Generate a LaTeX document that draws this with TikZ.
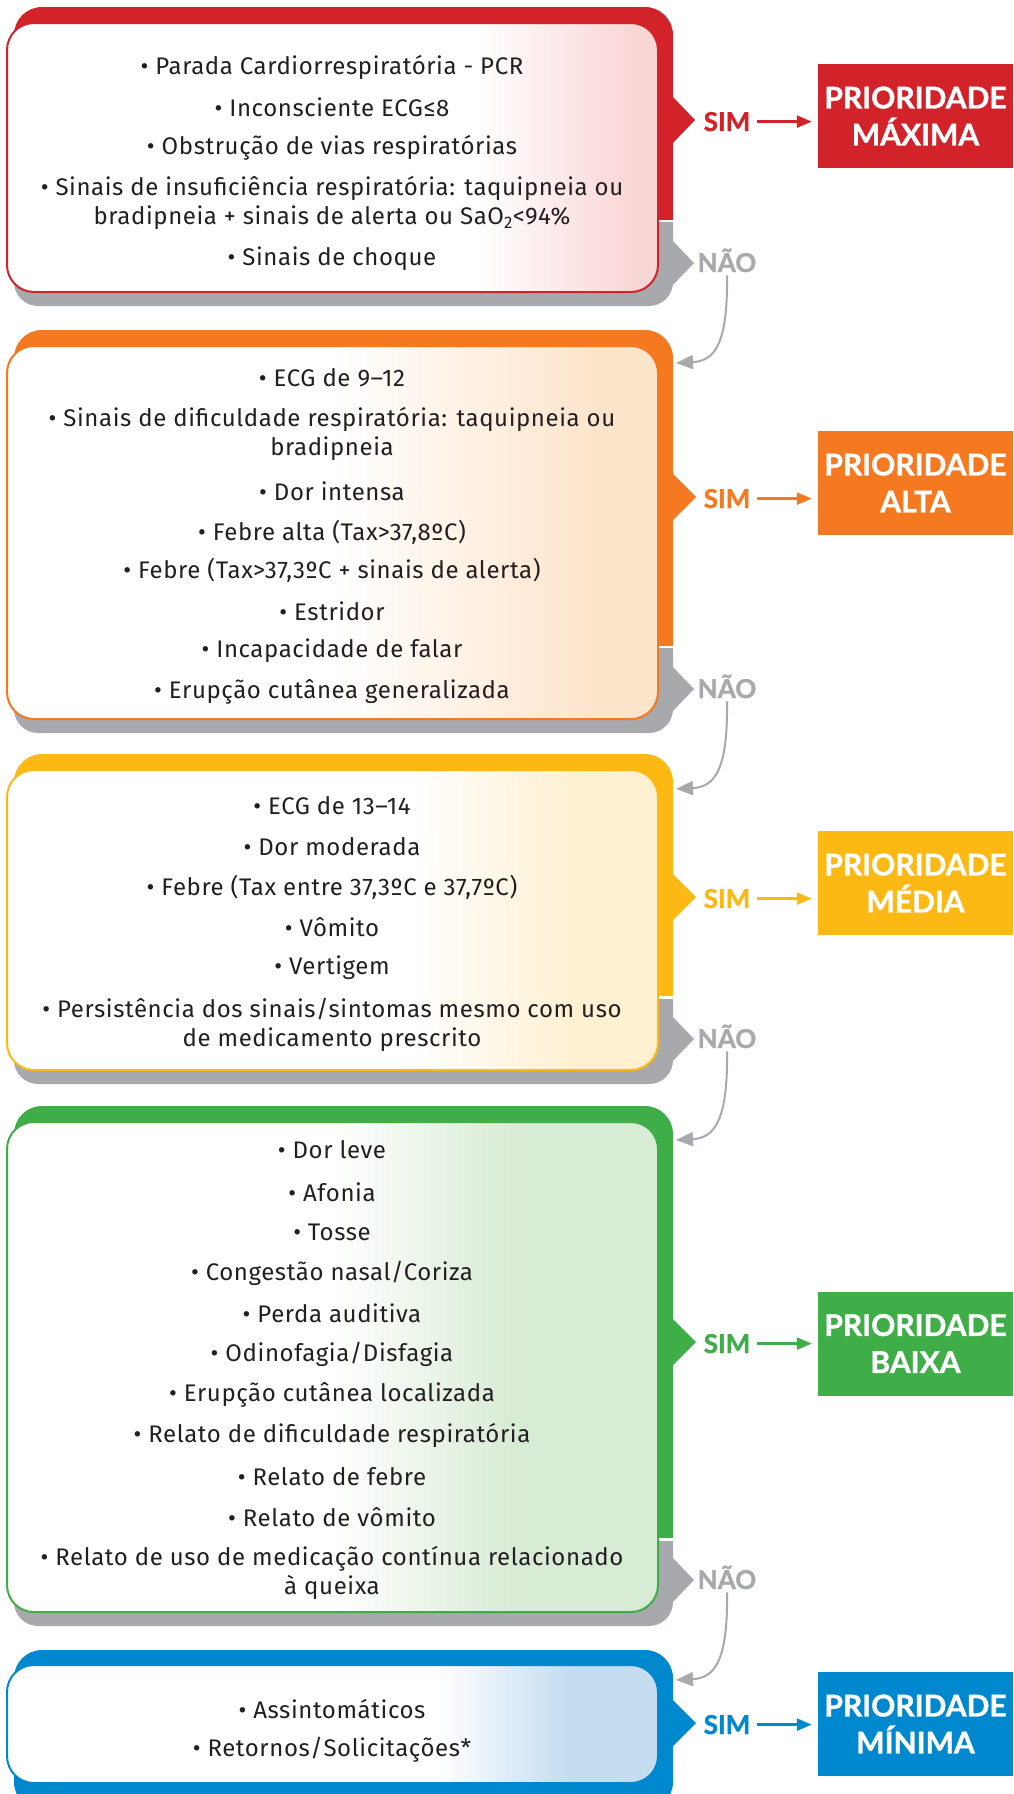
\documentclass[tikz,border=0pt]{standalone}
\usepackage{fontspec}
\setmainfont{Fira Sans}[LetterSpace=2.5]
\newfontfamily\lblfont{Lato}[BoldFeatures={FakeBold=1.2}]
\usetikzlibrary{arrows.meta}
\definecolor{cRed}{HTML}{D2232A}
\definecolor{cOrange}{HTML}{F47920}
\definecolor{cYellow}{HTML}{FDB913}
\definecolor{cGreen}{HTML}{3FAE49}
\definecolor{cBlue}{HTML}{0088CE}
\definecolor{cGrey}{HTML}{A7A9AC}
\definecolor{cText}{HTML}{231F20}
\definecolor{cRedL}{HTML}{F9D6D6}
\definecolor{cOrangeL}{HTML}{FDE5CC}
\definecolor{cYellowL}{HTML}{FEF0D0}
\definecolor{cGreenL}{HTML}{D8EBD4}
\definecolor{cBlueL}{HTML}{C5DDF1}
\pgfdeclarehorizontalshading{gRed}{100bp}{color(0bp)=(white); color(61bp)=(white); color(73bp)=(cRedL); color(100bp)=(cRedL)}
\pgfdeclarehorizontalshading{gOrange}{100bp}{color(0bp)=(white); color(50bp)=(white); color(70bp)=(cOrangeL); color(100bp)=(cOrangeL)}
\pgfdeclarehorizontalshading{gYellow}{100bp}{color(0bp)=(white); color(56bp)=(white); color(69bp)=(cYellowL); color(100bp)=(cYellowL)}
\pgfdeclarehorizontalshading{gGreen}{100bp}{color(0bp)=(white); color(50bp)=(white); color(64bp)=(cGreenL); color(100bp)=(cGreenL)}
\pgfdeclarehorizontalshading{gBlue}{100bp}{color(0bp)=(white); color(58bp)=(white); color(68bp)=(cBlueL); color(100bp)=(cBlueL)}
\tikzset{
  itemtext/.style={font=\fontsize{24}{29}\selectfont, text=cText, align=center, inner sep=0pt},
  wbox/.style={draw=#1, line width=2pt, rounded corners=27pt, minimum width=651pt, inner sep=0pt, shade},
  simlbl/.style={font=\lblfont\bfseries\fontsize{26}{26}\selectfont, text=#1, inner sep=3pt, anchor=base},
  naolbl/.style={font=\lblfont\bfseries\fontsize{26}{26}\selectfont, text=cGrey, inner sep=3pt, anchor=base},
  prio/.style={fill=#1, text=white, font=\lblfont\bfseries\fontsize{30}{37}\selectfont, align=center, minimum width=195pt, minimum height=104pt, inner sep=0pt},
  simarrow/.style={draw=#1, line width=2.5pt, shorten <=4pt, shorten >=6pt, -{Triangle[length=15pt,width=12pt]}},
  naoarrow/.style={draw=cGrey, line width=2pt, -{Triangle[length=17pt,width=14pt]}},
}
\begin{document}
\begin{tikzpicture}[x=1pt,y=-1pt]
\clip (0,0) rectangle (1013,1794);
\fill[white] (0,0) rectangle (1013,1794);

% ---------- Block 1 (red) ----------
\begin{scope}\clip (0,0) rectangle (1013,219);
  \fill[cRed, rounded corners=28pt] (14,7) rectangle (673,290);\end{scope}
\fill[cRed] (672,96) -- (695,120) -- (672,144) -- cycle;
\begin{scope}\clip (0,222) rectangle (1013,330);
  \fill[cGrey, rounded corners=24pt] (14,150) rectangle (673,306);\end{scope}
\fill[cGrey] (672,240) -- (694,263) -- (672,286) -- cycle;
\node[wbox=cRed, shading=gRed, minimum height=269pt] (box1) at (332.5,157.5) {};
\node[itemtext] (b1a) at (332,67) {• Parada Cardiorrespiratória - PCR};
\node[itemtext] (b1b) at (332,107) {• Inconsciente ECG≤8};
\node[itemtext] (b1c) at (332,148) {• Obstrução de vias respiratórias};
\node[itemtext] (b1d) at (332,203) {• Sinais de insuficiência respiratória: taquipneia ou\\bradipneia + sinais de alerta ou SaO\textsubscript{2}<94\%};
\node[itemtext] (b1e) at (332,259) {• Sinais de choque};
\node[simlbl=cRed] (sim1) at (727,131) {SIM};
\node[prio=cRed] (prio1) at (915.5,116) {PRIORIDADE\\MÁXIMA};
\draw[simarrow=cRed] (sim1.east) -- (sim1.east -| prio1.west);
\node[naolbl] (nao1) at (727,272) {NÃO};

% ---------- Block 2 (orange) ----------
\begin{scope}\clip (0,300) rectangle (1013,645);
  \fill[cOrange, rounded corners=28pt] (14,330) rectangle (673,720);\end{scope}
\fill[cOrange] (672,473) -- (696,497) -- (672,521) -- cycle;
\begin{scope}\clip (0,648) rectangle (1013,760);
  \fill[cGrey, rounded corners=24pt] (14,560) rectangle (673,733);\end{scope}
\fill[cGrey] (672,666) -- (694,689) -- (672,712) -- cycle;
\coordinate (in2) at (676,363);
\draw[naoarrow] (nao1.south) .. controls +(1,70) and +(38,-2) .. (in2);
\node[wbox=cOrange, shading=gOrange, minimum height=373pt] (box2) at (332.5,532.5) {};
\node[itemtext] (b2a) at (332,378) {• ECG de 9–12};
\node[itemtext] (b2b) at (332,434) {• Sinais de dificuldade respiratória: taquipneia ou\\bradipneia};
\node[itemtext] (b2c) at (332,491) {• Dor intensa};
\node[itemtext] (b2d) at (332,532) {• Febre alta (Tax>37,8ºC)};
\node[itemtext] (b2e) at (332,570) {• Febre (Tax>37,3ºC + sinais de alerta)};
\node[itemtext] (b2f) at (332,611) {• Estridor};
\node[itemtext] (b2g) at (332,651) {• Incapacidade de falar};
\node[itemtext] (b2h) at (332,692) {• Erupção cutânea generalizada};
\node[simlbl=cOrange] (sim2) at (727,508) {SIM};
\node[prio=cOrange] (prio2) at (915.5,483) {PRIORIDADE\\ALTA};
\draw[simarrow=cOrange] (sim2.east) -- (sim2.east -| prio2.west);
\node[naolbl] (nao2) at (727,698) {NÃO};

% ---------- Block 3 (yellow) ----------
\begin{scope}\clip (0,730) rectangle (1013,995);
  \fill[cYellow, rounded corners=28pt] (14,754) rectangle (673,1060);\end{scope}
\fill[cYellow] (672,873) -- (696,897) -- (672,921) -- cycle;
\begin{scope}\clip (0,999) rectangle (1013,1100);
  \fill[cGrey, rounded corners=24pt] (14,900) rectangle (673,1084);\end{scope}
\fill[cGrey] (672,1016) -- (694,1039) -- (672,1062) -- cycle;
\coordinate (in3) at (676,789);
\draw[naoarrow] (nao2.south) .. controls +(1,70) and +(38,-2) .. (in3);
\node[wbox=cYellow, shading=gYellow, minimum height=300pt] (box3) at (332.5,920) {};
\node[itemtext] (b3a) at (332,806) {• ECG de 13–14};
\node[itemtext] (b3b) at (332,847) {• Dor moderada};
\node[itemtext] (b3c) at (332,887) {• Febre (Tax entre 37,3ºC e 37,7ºC)};
\node[itemtext] (b3d) at (332,927) {• Vômito};
\node[itemtext] (b3e) at (332,968) {• Vertigem};
\node[itemtext] (b3f) at (332,1025) {• Persistência dos sinais/sintomas mesmo com uso\\de medicamento prescrito};
\node[simlbl=cYellow] (sim3) at (727,908) {SIM};
\node[prio=cYellow] (prio3) at (915.5,883) {PRIORIDADE\\MÉDIA};
\draw[simarrow=cYellow] (sim3.east) -- (sim3.east -| prio3.west);
\node[naolbl] (nao3) at (727,1048) {NÃO};

% ---------- Block 4 (green) ----------
\begin{scope}\clip (0,1090) rectangle (1013,1537);
  \fill[cGreen, rounded corners=28pt] (14,1106) rectangle (673,1600);\end{scope}
\fill[cGreen] (672,1318) -- (696,1342) -- (672,1366) -- cycle;
\begin{scope}\clip (0,1541) rectangle (1013,1640);
  \fill[cGrey, rounded corners=24pt] (14,1450) rectangle (673,1626);\end{scope}
\fill[cGrey] (672,1557) -- (694,1580) -- (672,1603) -- cycle;
\coordinate (in4) at (676,1140);
\draw[naoarrow] (nao3.south) .. controls +(1,70) and +(38,-2) .. (in4);
\node[wbox=cGreen, shading=gGreen, minimum height=490pt] (box4) at (332.5,1367) {};
\node[itemtext] (b4a) at (332,1150) {• Dor leve};
\node[itemtext] (b4b) at (332,1192) {• Afonia};
\node[itemtext] (b4c) at (332,1232) {• Tosse};
\node[itemtext] (b4d) at (332,1273) {• Congestão nasal/Coriza};
\node[itemtext] (b4e) at (332,1313) {• Perda auditiva};
\node[itemtext] (b4f) at (332,1354) {• Odinofagia/Disfagia};
\node[itemtext] (b4g) at (332,1395) {• Erupção cutânea localizada};
\node[itemtext] (b4h) at (332,1435) {• Relato de dificuldade respiratória};
\node[itemtext] (b4i) at (332,1477) {• Relato de febre};
\node[itemtext] (b4j) at (332,1517) {• Relato de vômito};
\node[itemtext] (b4k) at (332,1573) {• Relato de uso de medicação contínua relacionado\\à queixa};
\node[simlbl=cGreen] (sim4) at (727,1353) {SIM};
\node[prio=cGreen] (prio4) at (915.5,1343.5) {PRIORIDADE\\BAIXA};
\draw[simarrow=cGreen] (sim4.east) -- (sim4.east -| prio4.west);
\node[naolbl] (nao4) at (727,1589) {NÃO};

% ---------- Block 5 (blue) ----------
\fill[cBlue, rounded corners=28pt] (14,1650) rectangle (673,1810);
\fill[cBlue] (672,1699) -- (696,1723) -- (672,1747) -- cycle;
\coordinate (in5) at (676,1680);
\draw[naoarrow] (nao4.south) .. controls +(1,70) and +(38,-2) .. (in5);
\node[wbox=cBlue, shading=gBlue, minimum height=118pt] (box5) at (332.5,1724) {};
\node[itemtext] (b5a) at (332,1709) {• Assintomáticos};
\node[itemtext] (b5b) at (332,1750) {• Retornos/Solicitações*};
\node[simlbl=cBlue] (sim5) at (727,1734) {SIM};
\node[prio=cBlue] (prio5) at (915.5,1724) {PRIORIDADE\\MÍNIMA};
\draw[simarrow=cBlue] (sim5.east) -- (sim5.east -| prio5.west);
\end{tikzpicture}
\end{document}
